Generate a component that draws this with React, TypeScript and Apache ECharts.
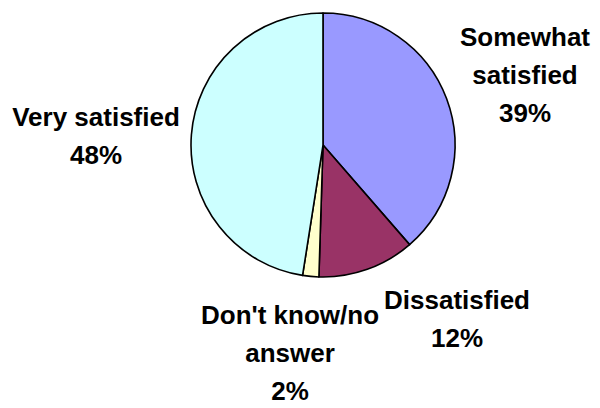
import React, { useEffect, useRef } from "react";
import * as echarts from "echarts";

const categories = ["Somewhat satisfied", "Dissatisfied", "Don't know/no answer", "Very satisfied"];
const labelTexts = ["Somewhat\nsatisfied", "Dissatisfied", "Don't know/no\nanswer", "Very satisfied"];
const values = [39, 12, 2, 48];
const colors = ["#9999FF", "#993366", "#FFFFCC", "#CCFFFF"];

const labelPositions: [number, number][] = [
  [525, 75],
  [457, 319],
  [290, 353],
  [96, 136],
];

export default function App() {
  const ref = useRef<HTMLDivElement>(null);
  useEffect(() => {
    if (!ref.current) return;
    const chart = echarts.init(ref.current, null, { renderer: "svg" });
    chart.setOption({
      animation: false,
      backgroundColor: "#ffffff",
      series: [
        {
          type: "pie",
          center: [323, 145],
          radius: 132,
          startAngle: 90,
          clockwise: true,
          avoidLabelOverlap: false,
          data: categories.map((name, i) => ({
            name,
            value: values[i],
            itemStyle: { color: colors[i] },
          })),
          itemStyle: { borderColor: "#000000", borderWidth: 1.6 },
          emphasis: { disabled: true },
          label: {
            show: true,
            position: "outside",
            formatter: (p: any) => `${labelTexts[p.dataIndex]}\n${p.value}%`,
            fontFamily: "Liberation Sans",
            fontWeight: "bold",
            fontSize: 26,
            lineHeight: 38,
            color: "#000000",
            align: "center",
          },
          labelLine: { show: false },
          labelLayout: (params: any) => {
            const pos = labelPositions[params.dataIndex];
            return { x: pos[0], y: pos[1], align: "center", verticalAlign: "middle" };
          },
        },
      ],
    });
    return () => chart.dispose();
  }, []);
  return (
    <div
      ref={ref}
      style={{ position: "fixed", left: 0, top: 0, width: 600, height: 408 }}
    />
  );
}
